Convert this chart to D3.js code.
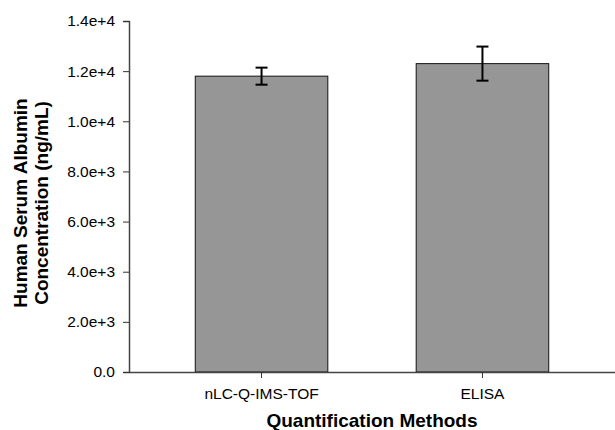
<!DOCTYPE html>
<html>
<head>
<meta charset="utf-8">
<script src="https://cdn.jsdelivr.net/npm/d3@7"></script>
<style>
  body { margin: 0; background: #fff; }
  text { font-family: "Liberation Sans", Arial, sans-serif; }
</style>
</head>
<body>
<div id="chart"></div>
<script>
// Data
var methods = ["nLC-Q-IMS-TOF", "ELISA"];
var concentration = [11800, 12300];
var errorSize = [340, 680];
var yTicks = [0, 2000, 4000, 6000, 8000, 10000, 12000, 14000];

var svgWidth = 615;
var svgHeight = 430;

var margin = { top: 21, right: 0, bottom: 58, left: 129 };
var width = svgWidth - margin.left - margin.right;
var height = svgHeight - margin.top - margin.bottom;

var svg = d3.select("#chart")
  .append("svg")
  .attr("width", svgWidth)
  .attr("height", svgHeight);

var chartGroup = svg.append("g")
  .attr("transform", `translate(${margin.left}, ${margin.top})`);

var xScale = d3.scaleBand()
  .domain(methods)
  .range([0, width])
  .paddingInner(0.4)
  .paddingOuter(0.3);

var yScale = d3.scaleLinear()
  .domain([0, 14000])
  .range([height, 0]);

// Bars
chartGroup.selectAll("rect.bar")
  .data(methods)
  .enter()
  .append("rect")
  .attr("class", "bar")
  .attr("x", d => xScale(d))
  .attr("y", (d, i) => yScale(concentration[i]))
  .attr("width", xScale.bandwidth())
  .attr("height", (d, i) => height - yScale(concentration[i]))
  .attr("fill", "#969696")
  .attr("stroke", "#111")
  .attr("stroke-width", 1);

// Error bars
var errGroup = chartGroup.append("g")
  .attr("stroke", "#000")
  .attr("stroke-width", 2);

methods.forEach(function(m, i) {
  var cx = xScale(m) + xScale.bandwidth() / 2;
  var top = yScale(concentration[i] + errorSize[i]);
  var bot = yScale(concentration[i] - errorSize[i]);
  errGroup.append("line")
    .attr("x1", cx).attr("x2", cx)
    .attr("y1", top).attr("y2", bot);
  errGroup.append("line")
    .attr("x1", cx - 6).attr("x2", cx + 6)
    .attr("y1", top).attr("y2", top);
  errGroup.append("line")
    .attr("x1", cx - 6).attr("x2", cx + 6)
    .attr("y1", bot).attr("y2", bot);
});

// Axes
var yAxis = chartGroup.append("g")
  .call(d3.axisLeft(yScale)
    .tickValues(yTicks)
    .tickSize(6)
    .tickPadding(8)
    .tickFormat(d => d === 0 ? "0.0" : d3.format(".1e")(d)));

var xAxis = chartGroup.append("g")
  .attr("transform", `translate(0, ${height})`)
  .call(d3.axisBottom(xScale).tickSize(6).tickSizeOuter(0).tickPadding(10));

[xAxis, yAxis].forEach(function(ax) {
  ax.select(".domain").attr("stroke", "#444").attr("stroke-width", 1.5);
  ax.selectAll(".tick line").attr("stroke", "#333");
  ax.selectAll(".tick text")
    .attr("fill", "#000")
    .attr("font-size", "15.5px")
    .attr("font-family", "'Liberation Sans', Arial, sans-serif");
});

// Axis titles
chartGroup.append("text")
  .attr("x", width / 2)
  .attr("y", height + 55)
  .attr("text-anchor", "middle")
  .attr("font-size", "19px")
  .attr("font-weight", "bold")
  .text("Quantification Methods");

var yTitle = chartGroup.append("text")
  .attr("transform", "rotate(-90)")
  .attr("text-anchor", "middle")
  .attr("font-size", "19px")
  .attr("font-weight", "bold");

yTitle.append("tspan")
  .attr("x", -182)
  .attr("y", -102)
  .text("Human Serum Albumin");

yTitle.append("tspan")
  .attr("x", -182)
  .attr("y", -81)
  .text("Concentration (ng/mL)");
</script>
</body>
</html>
